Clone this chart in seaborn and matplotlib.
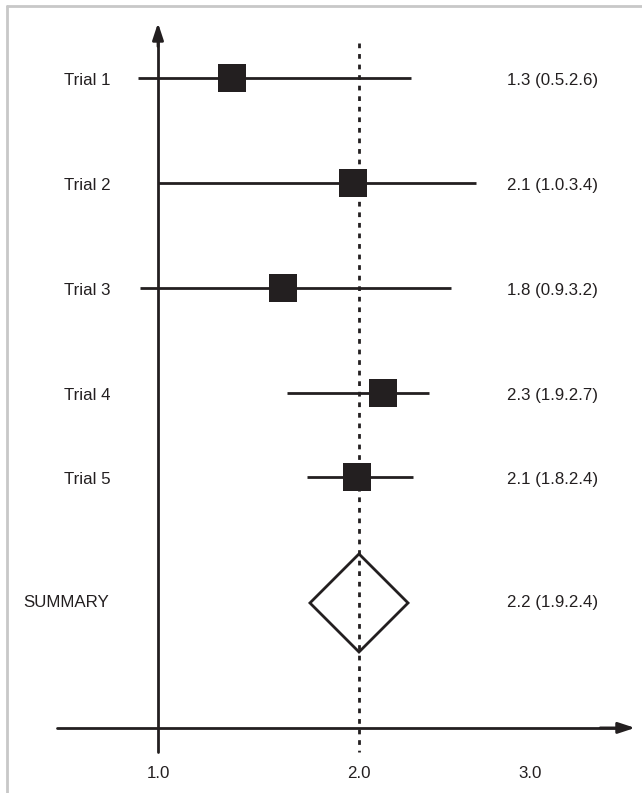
import matplotlib
matplotlib.use("Agg")
import matplotlib.pyplot as plt
from matplotlib.lines import Line2D
import seaborn as sns
import pandas as pd

# values (marks are placed on a linear 1.0 -> 2.0 scale)
studies = ["Trial 1", "Trial 2", "Trial 3", "Trial 4", "Trial 5"]
estimate = [1.37, 1.97, 1.62, 2.12, 1.99]
ci_low = [0.90, 1.00, 0.91, 1.64, 1.74]
ci_high = [2.26, 2.58, 2.46, 2.35, 2.27]
row = [0, 1, 2, 3, 3.8]
labels_right = ["1.3 (0.5.2.6)", "2.1 (1.0.3.4)", "1.8 (0.9.3.2)",
                "2.3 (1.9.2.7)", "2.1 (1.8.2.4)"]

summary_label = "SUMMARY"
summary_est = 2.0
summary_low = 1.756
summary_high = 2.244
summary_row = 5.0
summary_text = "2.2 (1.9.2.4)"

tick_pos = [1.0, 2.0, 2.85]
tick_text = ["1.0", "2.0", "3.0"]
ref_line = 2.0

df = pd.DataFrame({"study": studies, "est": estimate, "lo": ci_low,
                   "hi": ci_high, "row": row})

sns.set_style("white")
plt.rcParams["font.family"] = ["Liberation Sans", "DejaVu Sans"]
ink = "#231f20"
fs = 12.2

fig = plt.figure(figsize=(6.42, 7.93), dpi=100)
ax = fig.add_axes([0, 0, 1, 1])

# grey frame (top + left)
fig.add_artist(Line2D([7 / 642, 1], [1 - 6 / 793, 1 - 6 / 793],
                      transform=fig.transFigure, color="#c8c8c8", lw=2))
fig.add_artist(Line2D([7 / 642, 7 / 642], [0, 1 - 6 / 793],
                      transform=fig.transFigure, color="#c8c8c8", lw=2))

# axes with arrows
ax.plot([1.0, 1.0], [6.419, -0.4], color=ink, lw=2, zorder=2)
ax.annotate("", xy=(1.0, -0.524), xytext=(1.0, -0.3),
            arrowprops=dict(arrowstyle="-|>,head_length=1.0,head_width=0.33",
                            color=ink, lw=2, mutation_scale=10,
                            shrinkA=0, shrinkB=0))
ax.plot([0.4975, 3.3], [6.19, 6.19], color=ink, lw=2, zorder=2)
ax.annotate("", xy=(3.373, 6.19), xytext=(3.2, 6.19),
            arrowprops=dict(arrowstyle="-|>,head_length=1.0,head_width=0.33",
                            color=ink, lw=2, mutation_scale=10,
                            shrinkA=0, shrinkB=0))

# reference line
ax.plot([ref_line, ref_line], [-0.333, 6.419], color=ink, lw=2,
        linestyle=(0, (1.7, 2.1)), zorder=3)

# confidence intervals
ax.hlines(df["row"], df["lo"], df["hi"], color=ink, lw=2, zorder=2)

# point estimates
sns.scatterplot(data=df, x="est", y="row", marker="s", s=378, color=ink,
                linewidth=0, zorder=4, ax=ax, legend=False)
ax.set_xlim(1 - 158 / 201, 1 + 484 / 201)
ax.set_ylim(6.81, -0.743)
ax.axis("off")

# summary diamond
h = 0.467
ax.fill([summary_low, summary_est, summary_high, summary_est],
        [summary_row, summary_row - h, summary_row, summary_row + h],
        facecolor="none", edgecolor=ink, lw=2, zorder=4)

# text
for name, r, txt in zip(studies, row, labels_right):
    ax.text(0.532, r + 0.02, name, ha="left", va="center", fontsize=fs, color=ink)
    ax.text(2.736, r + 0.02, txt, ha="left", va="center", fontsize=fs, color=ink)
ax.text(0.328, summary_row, summary_label, ha="left", va="center",
        fontsize=fs, color=ink)
ax.text(2.736, summary_row, summary_text, ha="left", va="center",
        fontsize=fs, color=ink)

for p, t in zip(tick_pos, tick_text):
    ax.text(p, 6.62, t, ha="center", va="center", fontsize=fs, color=ink)

fig.savefig("out.png", dpi=100, facecolor="white")
plt.close(fig)
